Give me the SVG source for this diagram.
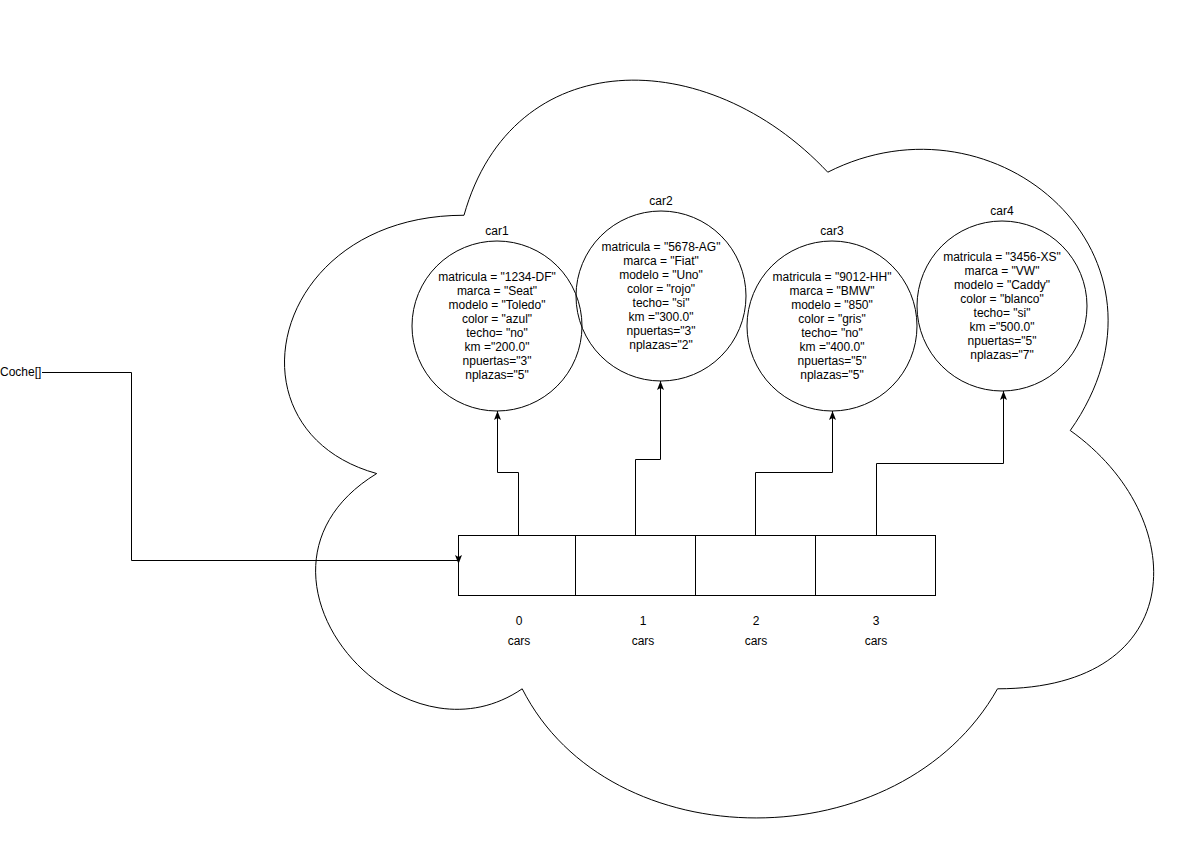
<svg xmlns="http://www.w3.org/2000/svg" width="1192" height="861" viewBox="0 0 1192 861">
<defs>
<style>
.t{font-family:"Liberation Sans",Arial,sans-serif;font-size:12px;fill:#000;text-anchor:middle}
.s{fill:none;stroke:#000;stroke-width:1}
.w{fill:#fff;stroke:#000;stroke-width:1}
.e{fill:none;stroke:#000;stroke-width:1}
</style>
<marker id="arr" viewBox="0 0 9 7" refX="9" refY="3.5" markerWidth="9" markerHeight="7" markerUnits="userSpaceOnUse" orient="auto">
<path d="M0,0 L9,3.5 L0,7 L2,3.5 Z" fill="#000"/>
</marker>
</defs>
<rect width="1192" height="861" fill="#fff"/>
<g id="cloud">
<path class="w" d="M464 215.25 C270 215.25 221.5 430.5 376.7 473.55 C221.5 568.26 396.1 774.9 522.2 688.8 C609.5 861 900.5 861 997.5 688.8 C1191.5 688.8 1191.5 516.6 1070.25 430.5 C1191.5 258.3 997.5 86.1 827.75 172.2 C706.5 43.05 512.5 43.05 464 215.25 Z"/>
</g>
<g id="array">
<rect class="w" x="458.5" y="535.5" width="117" height="60"/>
<rect class="w" x="575.5" y="535.5" width="120" height="60"/>
<rect class="w" x="695.5" y="535.5" width="120" height="60"/>
<rect class="w" x="815.5" y="535.5" width="120" height="60"/>
</g>
<g id="labels">
<text class="t" x="519" y="625">0</text>
<text class="t" x="519" y="645">cars</text>
<text class="t" x="643" y="625">1</text>
<text class="t" x="643" y="645">cars</text>
<text class="t" x="756" y="625">2</text>
<text class="t" x="756" y="645">cars</text>
<text class="t" x="876" y="625">3</text>
<text class="t" x="876" y="645">cars</text>
</g>
<g id="coche">
<text class="t" x="0" y="376" style="text-anchor:start">Coche[]</text>
</g>
<g id="car1">
<ellipse class="e" cx="497" cy="326" rx="85" ry="85"/>
<text class="t" x="497" y="235">car1</text>
<text class="t" y="281"><tspan x="497">matricula = "1234-DF"</tspan><tspan x="497" dy="14">marca = "Seat"</tspan><tspan x="497" dy="14">modelo = "Toledo"</tspan><tspan x="497" dy="14">color = "azul"</tspan><tspan x="497" dy="14">techo= "no"</tspan><tspan x="497" dy="14">km ="200.0"</tspan><tspan x="497" dy="14">npuertas="3"</tspan><tspan x="497" dy="14">nplazas="5"</tspan></text>
</g>
<g id="car2">
<ellipse class="e" cx="661" cy="296" rx="85" ry="85"/>
<text class="t" x="661" y="205">car2</text>
<text class="t" y="251"><tspan x="661">matricula = "5678-AG"</tspan><tspan x="661" dy="14">marca = "Fiat"</tspan><tspan x="661" dy="14">modelo = "Uno"</tspan><tspan x="661" dy="14">color = "rojo"</tspan><tspan x="661" dy="14">techo= "si"</tspan><tspan x="661" dy="14">km ="300.0"</tspan><tspan x="661" dy="14">npuertas="3"</tspan><tspan x="661" dy="14">nplazas="2"</tspan></text>
</g>
<g id="car3">
<ellipse class="e" cx="832" cy="326" rx="85" ry="85"/>
<text class="t" x="832" y="235">car3</text>
<text class="t" y="281"><tspan x="832">matricula = "9012-HH"</tspan><tspan x="832" dy="14">marca = "BMW"</tspan><tspan x="832" dy="14">modelo = "850"</tspan><tspan x="832" dy="14">color = "gris"</tspan><tspan x="832" dy="14">techo= "no"</tspan><tspan x="832" dy="14">km ="400.0"</tspan><tspan x="832" dy="14">npuertas="5"</tspan><tspan x="832" dy="14">nplazas="5"</tspan></text>
</g>
<g id="car4">
<ellipse class="e" cx="1002" cy="306" rx="85" ry="85"/>
<text class="t" x="1002" y="215">car4</text>
<text class="t" y="261"><tspan x="1002">matricula = "3456-XS"</tspan><tspan x="1002" dy="14">marca = "VW"</tspan><tspan x="1002" dy="14">modelo = "Caddy"</tspan><tspan x="1002" dy="14">color = "blanco"</tspan><tspan x="1002" dy="14">techo= "si"</tspan><tspan x="1002" dy="14">km ="500.0"</tspan><tspan x="1002" dy="14">npuertas="5"</tspan><tspan x="1002" dy="14">nplazas="7"</tspan></text>
</g>
<g id="connectors">
<path class="s" marker-end="url(#arr)" d="M42 372.5 H131.5 V560.5 H458.5 V564"/>
<path class="s" marker-end="url(#arr)" d="M518.5 535 V472.5 H497.5 V411"/>
<path class="s" marker-end="url(#arr)" d="M635.5 535 V459.5 H660.5 V381"/>
<path class="s" marker-end="url(#arr)" d="M755.5 535 V472.5 H832.5 V411"/>
<path class="s" marker-end="url(#arr)" d="M876.5 535 V463.5 H1003.5 V391"/>
</g>
</svg>
